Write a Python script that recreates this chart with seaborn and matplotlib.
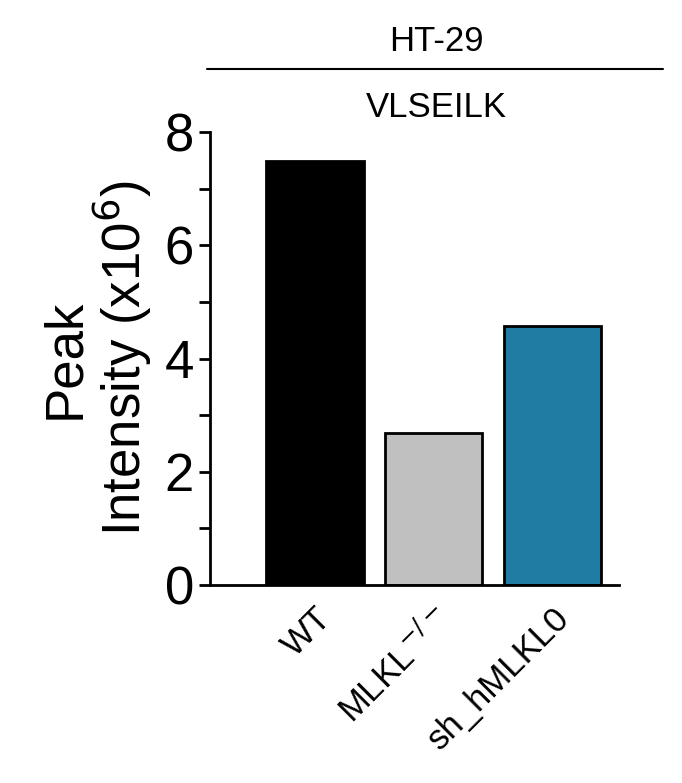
import matplotlib
matplotlib.use("Agg")
import matplotlib.pyplot as plt
import seaborn as sns
import pandas as pd

groups = ["WT", "MLKL$^{-/-}$", "sh_hMLKL0"]
values = [7.5, 2.69, 4.58]
colors = ["#000000", "#c0c0c0", "#217ca3"]

sns.set_style("ticks")
plt.rcParams["font.family"] = ["Arial", "Liberation Sans", "DejaVu Sans"]
plt.rcParams["text.color"] = "black"
plt.rcParams["axes.labelcolor"] = "black"
plt.rcParams["xtick.color"] = "black"
plt.rcParams["ytick.color"] = "black"
plt.rcParams["axes.edgecolor"] = "black"

df = pd.DataFrame({"group": groups, "value": values})
fig = plt.figure(figsize=(6.82, 7.83), dpi=100)
ax = fig.add_axes([0.308, 0.253, 0.60, 0.578])
sns.barplot(data=df, x="group", y="value", hue="group", palette=colors,
            saturation=1, width=0.82, edgecolor="black", linewidth=2,
            legend=False, ax=ax)
ax.set_xlim(-0.88, 2.56)
ax.set_ylim(0, 8)
ax.set_yticks([0, 2, 4, 6, 8])
ax.set_yticks([1, 3, 5, 7], minor=True)
ax.tick_params(axis="y", which="major", labelsize=38, width=2, length=8)
ax.tick_params(axis="y", which="minor", width=2, length=8)
ax.tick_params(axis="x", length=0, labelsize=25, pad=12)
plt.setp(ax.get_xticklabels(), rotation=45, ha="right", rotation_mode="anchor")
for s in ["top", "right"]:
    ax.spines[s].set_visible(False)
for s in ["left", "bottom"]:
    ax.spines[s].set_linewidth(2)
ax.set_xlabel("")
ax.set_ylabel("Peak\nIntensity (x10$^6$)", fontsize=38, labelpad=8, linespacing=1.0)
fig.text(0.64, 0.863, "VLSEILK", fontsize=25, ha="center", va="center")
fig.text(0.64, 0.947, "HT-29", fontsize=25, ha="center", va="center")
fig.add_artist(plt.Line2D([0.303, 0.972], [0.912, 0.912], color="black", lw=1.5))
fig.savefig("out.png", dpi=100)
